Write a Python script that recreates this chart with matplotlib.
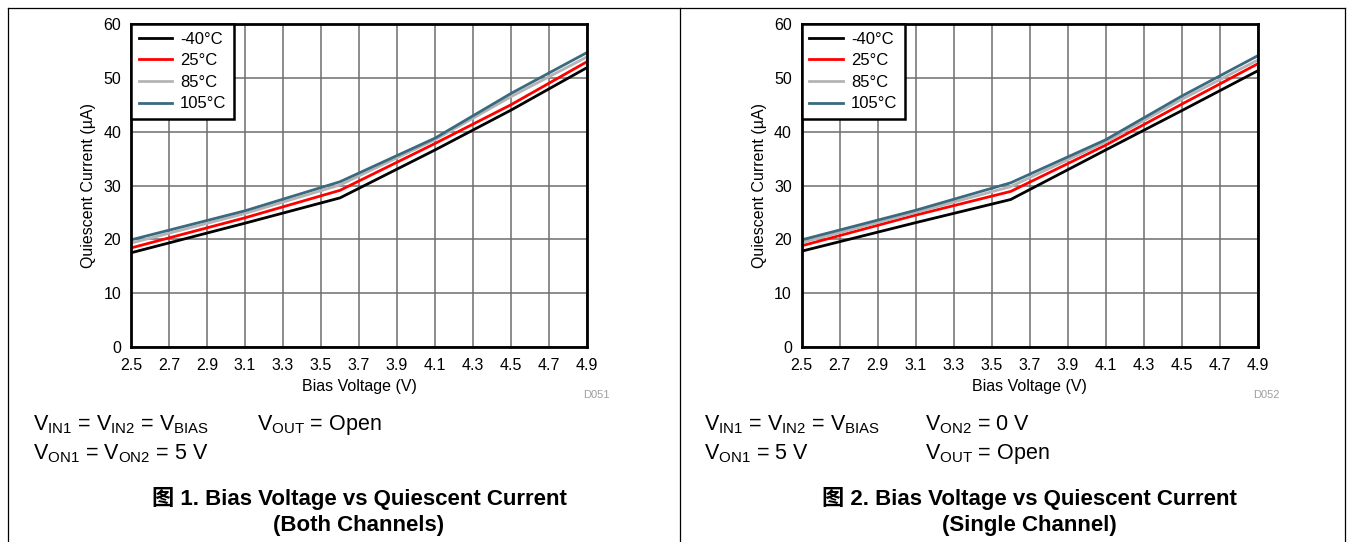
import matplotlib

matplotlib.use("Agg")
import matplotlib.pyplot as plt  # noqa: E402
from matplotlib.lines import Line2D  # noqa: E402

# bias voltage (V) where the curves bend
BIAS_V = [2.5, 3.1, 3.6, 4.1, 4.5, 4.9]
TEMPS = ["-40°C", "25°C", "85°C", "105°C"]

# quiescent current (uA), both channels on
BOTH_M40 = [17.5, 23.0, 27.7, 36.6, 44.0, 51.9]
BOTH_25 = [18.4, 24.0, 29.1, 37.8, 45.0, 53.0]
BOTH_85 = [19.3, 24.8, 30.1, 38.5, 46.5, 53.9]
BOTH_105 = [19.9, 25.3, 30.7, 38.8, 47.1, 54.7]

# quiescent current (uA), single channel on
SING_M40 = [17.8, 23.1, 27.4, 36.6, 43.9, 51.3]
SING_25 = [18.8, 24.5, 28.9, 37.5, 45.1, 52.6]
SING_85 = [19.4, 25.0, 29.8, 38.1, 46.0, 53.3]
SING_105 = [19.9, 25.4, 30.5, 38.5, 46.6, 54.1]

XTICKS = [2.5, 2.7, 2.9, 3.1, 3.3, 3.5, 3.7, 3.9, 4.1, 4.3, 4.5, 4.7, 4.9]
YTICKS = [0, 10, 20, 30, 40, 50, 60]

COLORS = ["black", "#ff0000", "#b4b4b4", "#3a6a80"]

plt.rcParams["font.family"] = ["Liberation Sans", "DejaVu Sans"]
plt.rcParams["mathtext.fontset"] = "custom"
plt.rcParams["mathtext.rm"] = "Liberation Sans"

TXT = ["Liberation Sans", "Noto Sans CJK SC"]

W, H = 1353, 542
fig = plt.figure(figsize=(W / 100, H / 100), dpi=100)


def px(x0, y0, x1, y1):
    return [x0 / W, 1 - y1 / H, (x1 - x0) / W, (y1 - y0) / H]


def panel(rect, series, code, notes, caption):
    ax = fig.add_axes(rect)
    for ys, c, lab in zip(series, COLORS, TEMPS):
        ax.plot(BIAS_V, ys, color=c, lw=2, label=lab, solid_joinstyle="miter")
    ax.set_xlim(2.5, 4.9)
    ax.set_ylim(0, 60)
    ax.set_xticks(XTICKS)
    ax.set_xticklabels([f"{v:.1f}" for v in XTICKS])
    ax.set_yticks(YTICKS)
    ax.tick_params(axis="x", length=0, labelsize=11.5, pad=8)
    ax.tick_params(axis="y", length=0, labelsize=11.5, pad=7)
    ax.grid(color="#6e6e6e", lw=1.1)
    ax.set_axisbelow(True)
    for s in ax.spines.values():
        s.set_linewidth(2)
    ax.set_xlabel("Bias Voltage (V)", fontsize=11.5, labelpad=4)
    ax.set_ylabel("Quiescent Current (µA)", fontsize=11.5, labelpad=5)
    leg = ax.legend(loc="upper left", fontsize=12, frameon=True, fancybox=False,
                    borderaxespad=0, handlelength=2.0, handletextpad=0.5,
                    labelspacing=0.4, borderpad=0.45, framealpha=1)
    leg.get_frame().set_edgecolor("black")
    leg.get_frame().set_linewidth(1.8)
    fig.text(rect[0] + 465 / W, 1 - 395 / H, code, ha="center", va="center",
             fontsize=8, color="#a0a0a0")
    x0 = rect[0]
    for (dx, dy, s) in notes:
        fig.text(x0 + dx / W, 1 - dy / H, s, fontsize=15.5, family=TXT,
                 ha="left", va="baseline")
    cx = rect[0] + rect[2] / 2
    fig.text(cx, 1 - 505 / H, caption[0], fontsize=16, weight="bold",
             family=TXT, ha="center", va="baseline")
    fig.text(cx, 1 - 531 / H, caption[1], fontsize=16, weight="bold",
             family=TXT, ha="center", va="baseline")
    return ax


VIN = r"V$_\mathregular{IN1}$ = V$_\mathregular{IN2}$ = V$_\mathregular{BIAS}$"

panel(px(131, 24, 587, 347),
      [BOTH_M40, BOTH_25, BOTH_85, BOTH_105], "D051",
      [(-98, 430, VIN),
       (126, 430, r"V$_\mathregular{OUT}$ = Open"),
       (-98, 459, r"V$_\mathregular{ON1}$ = V$_\mathregular{ON2}$ = 5 V")],
      ("图 1. Bias Voltage vs Quiescent Current", "(Both Channels)"))

panel(px(801.7, 24, 1257.7, 347),
      [SING_M40, SING_25, SING_85, SING_105], "D052",
      [(-98, 430, VIN),
       (123, 430, r"V$_\mathregular{ON2}$ = 0 V"),
       (-98, 459, r"V$_\mathregular{ON1}$ = 5 V"),
       (123, 459, r"V$_\mathregular{OUT}$ = Open")],
      ("图 2. Bias Voltage vs Quiescent Current", "(Single Channel)"))

# page frame around the two figures
for xs, ys in [((8, 1345), (8, 8)), ((8, 8), (8, 542)),
               ((680, 680), (8, 542)), ((1345, 1345), (8, 542))]:
    fig.add_artist(Line2D([x / W for x in xs], [1 - y / H for y in ys],
                          color="black", lw=0.9))

fig.savefig("out.png", dpi=100)
